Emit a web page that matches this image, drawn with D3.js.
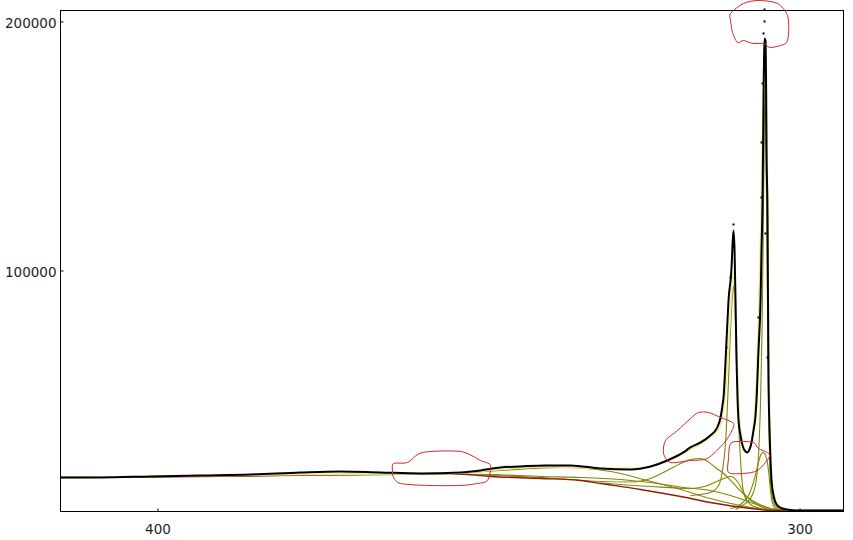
<!DOCTYPE html>
<html><head><meta charset="utf-8">
<script src="https://cdn.jsdelivr.net/npm/d3@7"></script>
<style>body{margin:0;background:#fff;} svg{display:block;}</style>
</head><body>
<svg id="c" width="853" height="540"></svg>
<script>
// ---- data (binding energy, counts) ----
const xTicks = [400, 300];
const yTicks = [100000, 200000];

const measured = [
 [415.1,16870],[408.9,16870],[401.1,17270],[393.3,17670],[385.5,18070],[377.7,18880],[371.5,19280],
 [365.3,18880],[359.0,18470],[352.8,18880],[349.7,19680],[346.6,20880],[343.5,21280],[339.6,21690],
 [335.7,21690],[331.0,20480],[326.3,20080],[323.2,21280],[320.6,23690],[318.1,26910],[317.0,28920],
 [315.4,30920],[313.9,33730],[312.9,36550],[312.3,40960],[312.0,45780],[311.84,48990],[311.37,71890],
 [311.06,87950],[310.59,101200],[310.44,110040],[310.28,116060],[310.12,108030],[309.97,87950],
 [309.81,63850],[309.66,48990],[309.50,39760],[309.19,33730],[308.88,29720],[308.41,27310],
 [308.10,26910],[307.79,28110],[307.48,30920],[307.17,35740],[306.85,41770],[306.70,47790],
 [306.39,67870],[306.07,87950],[305.92,108030],[305.76,128110],[305.68,148190],[305.61,168270],
 [305.53,184330],[305.45,193170],[305.30,192370],[305.22,176300],[305.14,148190],[304.98,120080],
 [304.91,87950],[304.83,55820],[304.75,43770],[304.67,35740],[304.52,23690],[304.36,15660],
 [304.05,9640],[303.74,6830],[303.27,5220],[302.65,4420],[301.40,3820],[299.84,3610],[293.15,3610]
];
const strayPoints = [
 [305.45,204800],[305.45,200000],[305.61,195180],[310.28,118470],[305.76,175100],[305.30,179520],
 [310.75,97190],[311.37,69080],[304.98,65060],[306.39,81120],[305.30,114860],[305.92,151400],[305.92,129300]
];
const background = [
 [415.1,16870],[393.3,17270],[369.9,18070],[354.4,18470],[348.1,17270],[340.3,16470],[334.1,15660],
 [331.0,14460],[324.8,12050],[318.5,9240],[313.9,6830],[307.6,4420],[304.5,3610],[293.15,3610]
];
const compBroad = [
 [415.1,16870],[377.7,17670],[354.4,18470],[346.6,19680],[337.2,20880],[329.4,19280],[323.7,15660],
 [318.5,12050],[313.9,8430],[309.2,5620],[304.5,3820],[293.15,3610]
];
const compBroad2 = [
 [415.1,16870],[354.4,18270],[348.1,18070],[340.3,17270],[334.1,16870],[327.9,16060],[323.2,14860],
 [318.1,12850],[313.9,11650],[310.75,9640],[307.6,6830],[304.5,4420],[301.4,3610],[293.15,3610]
];
const compShoulder = [
 [349.7,17870],[340.3,16870],[331.0,15260],[325.9,15060],[323.2,16470],[320.6,19680],[318.5,22490],
 [317.0,24100],[315.4,24500],[314.3,23290],[313.1,20880],[311.8,18470],[310.3,14460],[308.1,8840],
 [306.5,6430],[305.0,4820],[303.0,3610],[293.15,3610]
];
const compBase1 = [
 [331.0,14660],[323.2,13250],[317.0,12450],[314.3,13650],[311.8,16470],[310.75,17270],[309.66,15260],
 [308.72,10840],[307.63,7630],[306.07,5220],[303.74,3610],[293.15,3610]
];
const compPeak1 = [
 [317.0,9640],[313.9,10840],[312.6,13650],[312.0,19680],[311.5,31730],[311.06,55820],[310.75,75900],
 [310.44,89960],[310.28,93970],[310.12,89960],[309.81,63850],[309.50,39760],[309.19,23690],
 [308.88,13650],[308.41,8430],[307.63,6020],[306.07,4420],[302.96,3610]
];
const compPeak2 = [
 [309.97,4020],[308.41,6430],[307.32,10040],[306.70,16470],[306.39,25700],[306.07,47790],[305.84,75900],
 [305.68,108030],[305.53,144170],[305.37,172290],[305.22,148190],[305.06,108030],[304.91,67870],
 [304.75,35740],[304.60,19680],[304.36,10840],[303.89,6020],[302.96,4020],[301.40,3610]
];
const compSmall = [
 [310.75,4420],[309.19,6020],[307.94,9640],[307.17,14860],[306.54,21280],[306.07,25700],[305.76,26910],
 [305.45,26510],[305.14,24500],[304.83,19680],[304.52,11650],[304.21,6430],[303.74,4420],[302.96,3610]
];
const envelope = [
 [415.1,16870],[377.7,18070],[354.4,18470],[346.6,20080],[339.6,21280],[331.0,20480],[326.3,20480],
 [320.6,23290],[317.0,28110],[313.9,32930],[312.3,37750],[311.7,47790],[311.2,63850],[310.75,83930],
 [310.44,95980],[310.28,99200],[310.12,93970],[309.81,71890],[309.50,47790],[309.19,35740],
 [308.72,28920],[308.10,26910],[307.63,29320],[307.17,37750],[306.70,55820],[306.39,79920],
 [306.07,112050],[305.76,152210],[305.61,176300],[305.45,188350],[305.30,190360],[305.14,172290],
 [304.98,128110],[304.83,79920],[304.67,43770],[304.52,25700],[304.21,13650],[303.74,7630],
 [302.96,4820],[301.40,3820],[293.15,3610]
];
// hand-drawn annotation outlines (data coordinates)
const markTop = [[310.75,203210],[308.72,207230],[306.39,208430],[303.43,207230],[301.87,202410],[301.71,195180],
 [302.18,191160],[304.52,189550],[305.61,191160],[307.32,191160],[308.72,192370],[309.66,191560],[310.44,195580],[310.75,200400]];
const markLeft = [[363.24,22490],[361.06,22890],[358.72,26910],[352.80,27310],[349.69,23690],[348.13,21690],
 [348.60,15660],[350.16,14460],[352.80,13650],[357.94,13650],[362.15,14460],[363.24,16870],[363.40,19680]];
const markShoulder = [[315.73,42970],[314.17,42970],[312.31,40960],[310.28,38550],[310.75,34540],[311.84,30520],
 [314.33,24500],[316.98,23690],[320.09,22890],[321.18,26510],[320.87,31730],[319.0,35740],[316.98,40560]];
const markValley = [[310.75,30520],[309.19,31330],[307.17,30920],[306.39,28510],[304.83,26510],[304.83,24500],
 [306.54,19680],[308.72,18470],[311.06,18880],[311.06,24500]];

// ---- drawing ----
const svg = d3.select('#c');
const L = 60.5, R = 843.5, T = 10.5, B = 511.5;
const x = d3.scaleLinear().domain([415.11, 293.15]).range([L, R]);
const y = d3.scaleLinear().domain([3200, 204400]).range([B, T]);
const line = d3.line().x(d => x(d[0])).y(d => y(d[1])).curve(d3.curveMonotoneX);
const blob = d3.line().x(d => x(d[0])).y(d => y(d[1])).curve(d3.curveCardinalClosed.tension(0.2));

const g = svg.append('g');
const olive = '#858500';
[compBroad, compBroad2, compShoulder, compBase1, compPeak1, compPeak2, compSmall].forEach(c => {
  g.append('path').attr('d', line(c)).attr('fill','none').attr('stroke', olive).attr('stroke-width', 1.1);
});
g.append('path').attr('d', line(background)).attr('fill','none').attr('stroke','#8e1c0c').attr('stroke-width',1.4);
g.append('path').attr('d', line(envelope)).attr('fill','none').attr('stroke','#ecec9a').attr('stroke-width',1.8);
g.append('path').attr('d', line(measured)).attr('fill','none').attr('stroke','#000').attr('stroke-width',2);
g.selectAll('rect.pt').data(strayPoints).enter().append('rect').attr('class','pt')
  .attr('x', d => x(d[0]) - 1).attr('y', d => y(d[1]) - 1).attr('width',2).attr('height',2).attr('fill','#000');

// frame
svg.append('rect').attr('x',L).attr('y',T).attr('width',R-L).attr('height',B-T)
  .attr('fill','none').attr('stroke','#000').attr('stroke-width',1);

const fontFamily = '"DejaVu Sans", Verdana, sans-serif';
const ya = svg.append('g').attr('transform',`translate(${L},0)`)
  .call(d3.axisLeft(y).tickValues(yTicks).tickSize(-3).tickPadding(4).tickFormat(d3.format('d')));
const xa = svg.append('g').attr('transform',`translate(0,${B})`)
  .call(d3.axisBottom(x).tickValues(xTicks).tickSize(-3).tickPadding(13).tickFormat(d3.format('d')));
[ya, xa].forEach(a => {
  a.select('.domain').remove();
  a.selectAll('.tick line').attr('stroke','#000');
  a.selectAll('.tick text').attr('font-family', fontFamily).attr('font-size','13.5px').attr('fill','#1e1e1e');
});
ya.selectAll('.tick text').attr('dy','0.45em');

// annotations
[markTop, markLeft, markShoulder, markValley].forEach(m => {
  svg.append('path').attr('d', blob(m)).attr('fill','none').attr('stroke','#d02424').attr('stroke-width',1);
});
</script>
</body></html>
